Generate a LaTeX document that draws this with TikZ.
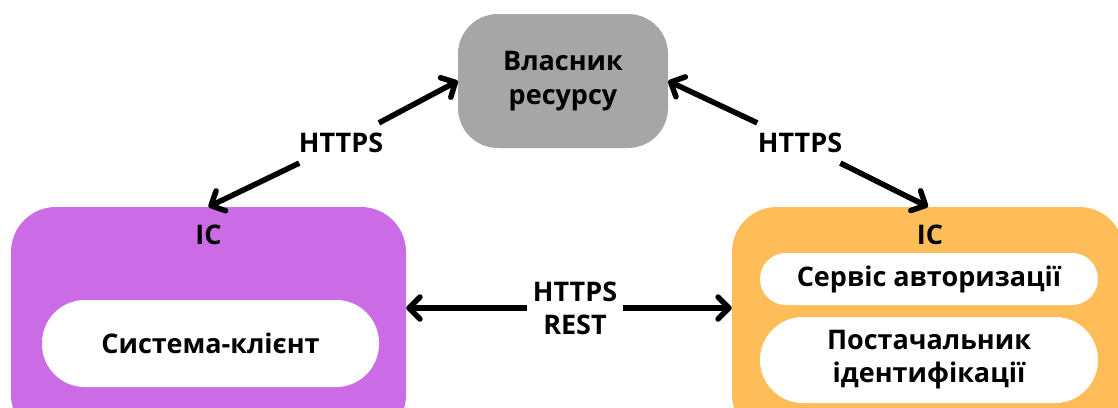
\documentclass[tikz,border=0pt]{standalone}
\usepackage{fontspec}
\setmainfont{Open Sans}
\usetikzlibrary{arrows.meta}
\definecolor{ownergray}{HTML}{A6A6A6}
\definecolor{clientpurple}{HTML}{CB6CE6}
\definecolor{idporange}{HTML}{FFBD59}
\begin{document}
\begin{tikzpicture}[x=1pt,y=-1pt,
  lbl/.style={font=\fontsize{27}{33}\selectfont\bfseries, align=center, inner sep=10pt},
  bigbox/.style={draw=none, inner sep=0pt, rounded corners=45pt},
  pill/.style={fill=white, draw=none, inner sep=0pt, font=\fontsize{27}{33}\selectfont\bfseries, align=center},
  arr/.style={line width=5.5pt, -{Straight Barb[length=11pt,width=22pt,round]}}
]
\useasboundingbox (0,0) rectangle (1118,407);
\clip (0,0) rectangle (1118,407);
\fill[white] (0,0) rectangle (1118,407);

% resource owner
\node[bigbox, fill=ownergray, minimum width=210pt, minimum height=134pt, rounded corners=40pt,
      font=\fontsize{27}{34}\selectfont\bfseries, align=center] (owner) at (563,81) {Власник\\ресурсу};

% client system
\node[bigbox, fill=clientpurple, minimum width=395pt, minimum height=233pt] (client) at (208.5,323.5) {};
\node[lbl, inner sep=0pt] (icl) at (208.5,235) {IC};
\node[pill, minimum width=337pt, minimum height=87pt, rounded corners=43pt] (cs) at (210.5,343.5) {Система-клієнт};

% identity provider side
\node[bigbox, fill=idporange, minimum width=392pt, minimum height=233pt] (idp) at (928,323.5) {};
\node[lbl, inner sep=0pt] (icr) at (930,235) {IC};
\node[pill, minimum width=338pt, minimum height=52pt, rounded corners=26pt] (auth) at (929,279) {Сервіс авторизації};
\node[pill, minimum width=338pt, minimum height=86pt, rounded corners=43pt] (prov) at (929,360) {Постачальник\\ідентифікації};

% labels
\node[lbl] (l1) at (341,143) {HTTPS};
\node[lbl] (l2) at (800,143) {HTTPS};
\node[lbl, inner sep=6pt] (l3) at (575,308) {HTTPS\\REST};

% connectors
\draw[arr] (l1) -- (owner.west);
\draw[arr] (l1) -- (client.north);
\draw[arr] (l2) -- (owner.east);
\draw[arr] (l2) -- (idp.north);
\draw[arr] (l3) -- (l3 -| client.east);
\draw[arr] (l3) -- (l3 -| idp.west);
\end{tikzpicture}
\end{document}
